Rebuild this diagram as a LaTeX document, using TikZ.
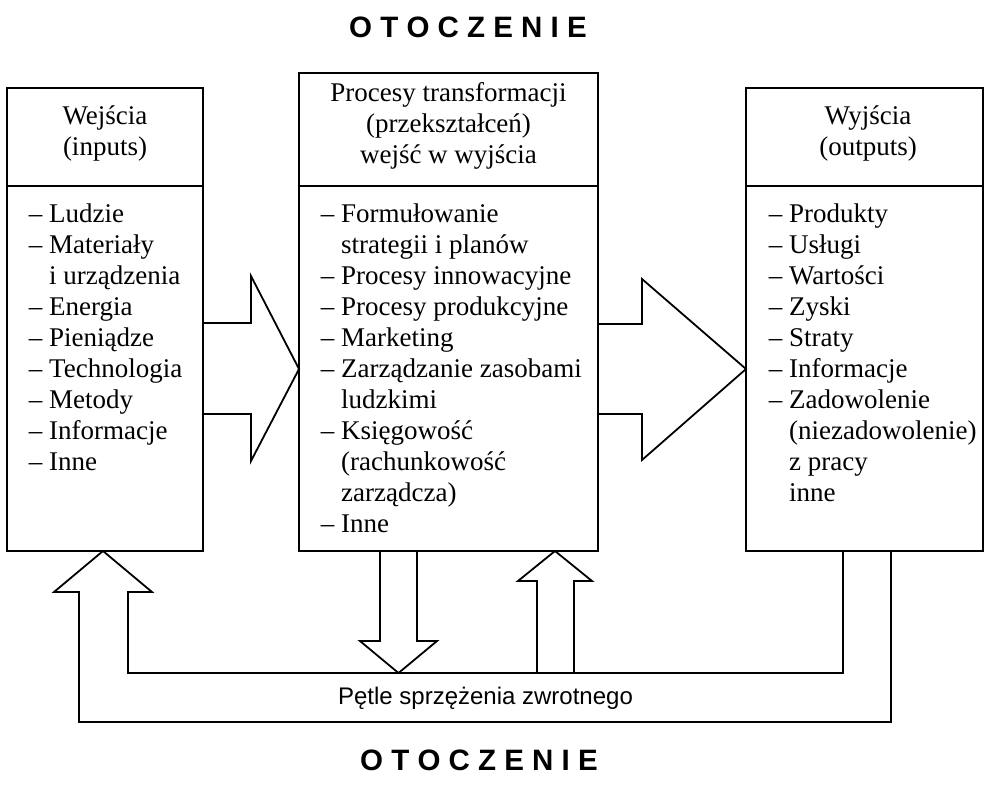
\documentclass[tikz,border=0pt]{standalone}
\usepackage{fontspec}
\setmainfont{Liberation Serif}
\newfontfamily\arialf{Liberation Sans}
\begin{document}
\begin{tikzpicture}[x=1pt,y=-1pt,line width=1.8pt,line join=miter,
  box/.style={draw,line width=1.8pt,inner sep=0pt},
  bodytext/.style={inner sep=0pt,font=\fontsize{27}{31}\selectfont},
  looptext/.style={inner sep=0pt,font={\arialf\fontsize{24}{28}\selectfont}},
  envtext/.style={inner sep=0pt,font={\arialf\bfseries\fontsize{29.5}{32}\selectfont}}]
\useasboundingbox (0,0) rectangle (988,788);
\coordinate (div) at (0,186);

% boxes
\node[box,minimum width=196pt,minimum height=463pt] (inbox) at (105,319.5) {};
\node[box,minimum width=299pt,minimum height=478pt] (procbox) at (448.5,312) {};
\node[box,minimum width=237pt,minimum height=463pt] (outbox) at (864.5,319.5) {};
\draw (inbox.west |- div) -- (inbox.east |- div);
\draw (procbox.west |- div) -- (procbox.east |- div);
\draw (outbox.west |- div) -- (outbox.east |- div);

% headers
\node[bodytext,anchor=base] (inhead) at (105,124)
  {\begin{tabular}[t]{@{}c@{}}Wejścia\\(inputs)\end{tabular}};
\node[bodytext,anchor=base] (prochead) at (448.5,101)
  {\begin{tabular}[t]{@{}c@{}}Procesy transformacji\\(przekształceń)\\wejść w wyjścia\end{tabular}};
\node[bodytext,anchor=base] (outhead) at (868,124)
  {\begin{tabular}[t]{@{}c@{}}Wyjścia\\(outputs)\end{tabular}};

% lists
\node[bodytext,anchor=base west] (inlist) at (28,222)
  {\begin{tabular}[t]{@{}l@{\ }l@{}}
   – & Ludzie\\ – & Materiały\\ & i urządzenia\\ – & Energia\\ – & Pieniądze\\
   – & Technologia\\ – & Metody\\ – & Informacje\\ – & Inne
   \end{tabular}};
\node[bodytext,anchor=base west] (proclist) at (320,222)
  {\begin{tabular}[t]{@{}l@{\ }l@{}}
   – & Formułowanie\\ & strategii i planów\\ – & Procesy innowacyjne\\
   – & Procesy produkcyjne\\ – & Marketing\\ – & Zarządzanie zasobami\\
   & ludzkimi\\ – & Księgowość\\ & (rachunkowość\\ & zarządcza)\\ – & Inne
   \end{tabular}};
\node[bodytext,anchor=base west] (outlist) at (768,222)
  {\begin{tabular}[t]{@{}l@{\ }l@{}}
   – & Produkty\\ – & Usługi\\ – & Wartości\\ – & Zyski\\ – & Straty\\
   – & Informacje\\ – & Zadowolenie\\ & (niezadowolenie)\\ & z pracy\\ & inne
   \end{tabular}};

% block arrows between boxes
\draw (203,323) -- (251,323) -- (251,276) -- (299,369) -- (251,461) -- (251,414) -- (203,414);
\draw (598,324) -- (642,324) -- (642,279) -- (746,369) -- (642,460) -- (642,414) -- (598,414);

% feedback loop
\draw (843,551) -- (843,673) -- (128,673) -- (128,592) -- (152,592) -- (103,551)
  -- (54,592) -- (79,592) -- (79,722) -- (891,722) -- (891,551);
\draw (380,551) -- (380,641) -- (360,641) -- (398.5,673) -- (437,641) -- (417,641) -- (417,551);
\draw (537,673) -- (537,581) -- (518,581) -- (555,551) -- (592,581) -- (574,581) -- (574,673);
\node[looptext] (loop) at (485.5,698) {Pętle sprzężenia zwrotnego};

% environment labels
\node[envtext,anchor=base] (envtop) at (468,37.5) {O T O C Z E N I E};
\node[envtext,anchor=base] (envbot) at (479,770.5) {O T O C Z E N I E};
\end{tikzpicture}
\end{document}
